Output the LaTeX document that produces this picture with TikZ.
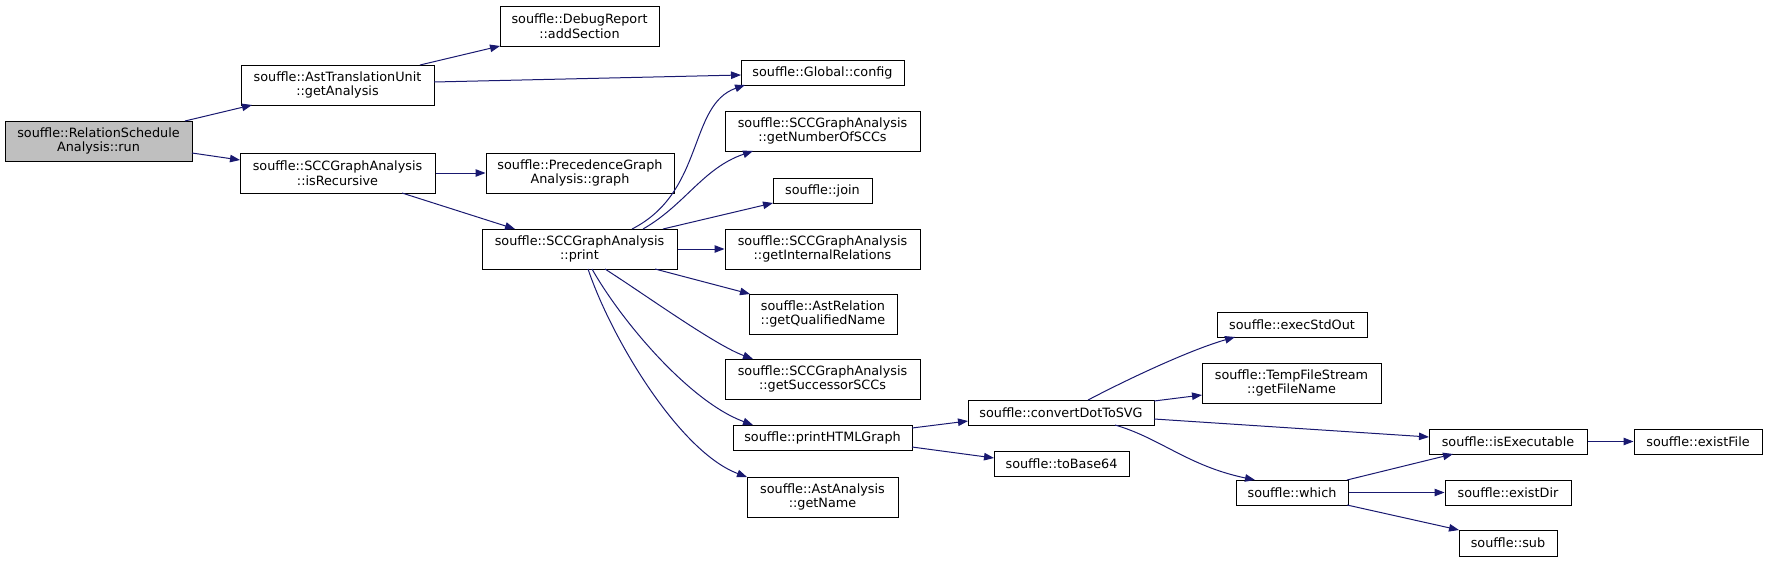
\documentclass[tikz,border=0pt]{standalone}
\usepackage{fontspec}
\setmainfont{DejaVu Sans}
\usetikzlibrary{arrows.meta,calc}
\definecolor{edgec}{HTML}{191970}
\definecolor{rootc}{HTML}{BFBFBF}
\begin{document}
\begin{tikzpicture}[x=1pt,y=-1pt,
  box/.style={draw=black, line width=1pt, fill=white, rectangle, inner sep=0pt, align=center,
    font=\fontsize{12.8}{14.7}\selectfont},
  edge/.style={draw=edgec, line width=1pt, -{Triangle[length=10pt,width=7.5pt]}},
]
\useasboundingbox (0,0) rectangle (1768,562);
% nodes
\node[box, minimum width=187, minimum height=40, fill=rootc] (run) at (98.5,141) {souffle::RelationSchedule\\Analysis::run};
\node[box, minimum width=193, minimum height=40] (getAnalysis) at (337.5,85) {souffle::AstTranslationUnit\\::getAnalysis};
\node[box, minimum width=195, minimum height=40] (isRecursive) at (337.5,173) {souffle::SCCGraphAnalysis\\::isRecursive};
\node[box, minimum width=159, minimum height=40] (addSection) at (579.5,26) {souffle::DebugReport\\::addSection};
\node[box, minimum width=163, minimum height=25] (config) at (822.5,72.5) {souffle::Global::config};
\node[box, minimum width=188, minimum height=40] (graph) at (580,173) {souffle::PrecedenceGraph\\Analysis::graph};
\node[box, minimum width=195, minimum height=40] (print) at (579.5,249) {souffle::SCCGraphAnalysis\\::print};
\node[box, minimum width=195, minimum height=40] (numSCC) at (822.5,131) {souffle::SCCGraphAnalysis\\::getNumberOfSCCs};
\node[box, minimum width=99, minimum height=25] (join) at (822.5,190.5) {souffle::join};
\node[box, minimum width=195, minimum height=40] (internal) at (822.5,249) {souffle::SCCGraphAnalysis\\::getInternalRelations};
\node[box, minimum width=148, minimum height=40] (qualName) at (823,314) {souffle::AstRelation\\::getQualifiedName};
\node[box, minimum width=195, minimum height=40] (succSCC) at (822.5,379) {souffle::SCCGraphAnalysis\\::getSuccessorSCCs};
\node[box, minimum width=179, minimum height=25] (html) at (822.5,438) {souffle::printHTMLGraph};
\node[box, minimum width=151, minimum height=40] (getName) at (822.5,497) {souffle::AstAnalysis\\::getName};
\node[box, minimum width=186, minimum height=25] (dot) at (1061,412.5) {souffle::convertDotToSVG};
\node[box, minimum width=135, minimum height=25] (base64) at (1061.5,463.5) {souffle::toBase64};
\node[box, minimum width=150, minimum height=25] (exec) at (1292,324.5) {souffle::execStdOut};
\node[box, minimum width=179, minimum height=40] (temp) at (1291.5,383) {souffle::TempFileStream\\::getFileName};
\node[box, minimum width=158, minimum height=25] (isExec) at (1508,441.5) {souffle::isExecutable};
\node[box, minimum width=112, minimum height=25] (which) at (1292,492.5) {souffle::which};
\node[box, minimum width=128, minimum height=25] (existFile) at (1698,441.5) {souffle::existFile};
\node[box, minimum width=126, minimum height=25] (existDir) at (1508,492.5) {souffle::existDir};
\node[box, minimum width=98, minimum height=26] (sub) at (1508,543) {souffle::sub};
% edges
\draw[edge] ($(run)+(86.5,-20)$) -- ($(getAnalysis)+(-85.5,20)$);
\draw[edge] ($(run)+(93.5,12)$) -- ($(isRecursive)+(-97.5,-13)$);
\draw[edge] ($(getAnalysis)+(82.5,-20)$) -- ($(addSection)+(-79.5,20)$);
\draw[edge] ($(getAnalysis)+(96.5,-3)$) -- ($(config)+(-81.5,2.5)$);
\draw[edge] (isRecursive.east) -- (graph.west);
\draw[edge] ($(isRecursive)+(64.5,20)$) -- ($(print)+(-64.5,-20)$);
\draw[edge] ($(print)+(52.5,-20)$) .. controls (705,192) and (688,105) .. ($(config)+(-77.5,12.5)$);
\draw[edge] ($(print)+(63.5,-20)$) .. controls (685,205) and (703,168) .. ($(numSCC)+(-69.5,20)$);
\draw[edge] ($(print)+(83.5,-20)$) -- ($(join)+(-49.5,12.5)$);
\draw[edge] (print.east) -- (internal.west);
\draw[edge] ($(print)+(75.5,20)$) -- ($(qualName)+(-73,-20)$);
\draw[edge] ($(print)+(25.5,20)$) .. controls (650,298) and (715,345) .. ($(succSCC)+(-69.5,-20)$);
\draw[edge] ($(print)+(12.5,20)$) .. controls (622,322) and (690,402) .. ($(html)+(-69.5,-13)$);
\draw[edge] ($(print)+(8.5,20)$) .. controls (612,340) and (680,452) .. ($(getName)+(-75.5,-20)$);
\draw[edge] ($(html)+(89.5,-10)$) -- ($(dot)+(-93,8.5)$);
\draw[edge] ($(html)+(89.5,9)$) -- ($(base64)+(-67.5,-5.5)$);
\draw[edge] ($(dot)+(27,-12.5)$) .. controls (1130,378) and (1190,350) .. ($(exec)+(-57,12.5)$);
\draw[edge] ($(dot)+(93,-11.5)$) -- ($(temp)+(-89.5,12)$);
\draw[edge] ($(dot)+(93,6.5)$) -- ($(isExec)+(-79,-4.5)$);
\draw[edge] ($(dot)+(54,12.5)$) .. controls (1160,438) and (1188,466) .. ($(which)+(-37,-12.5)$);
\draw[edge] ($(which)+(55,-12.5)$) -- ($(isExec)+(-55,12.5)$);
\draw[edge] (which.east) -- (existDir.west);
\draw[edge] ($(which)+(55,12.5)$) -- ($(sub)+(-49,-13)$);
\draw[edge] (isExec.east) -- (existFile.west);
\end{tikzpicture}
\end{document}
